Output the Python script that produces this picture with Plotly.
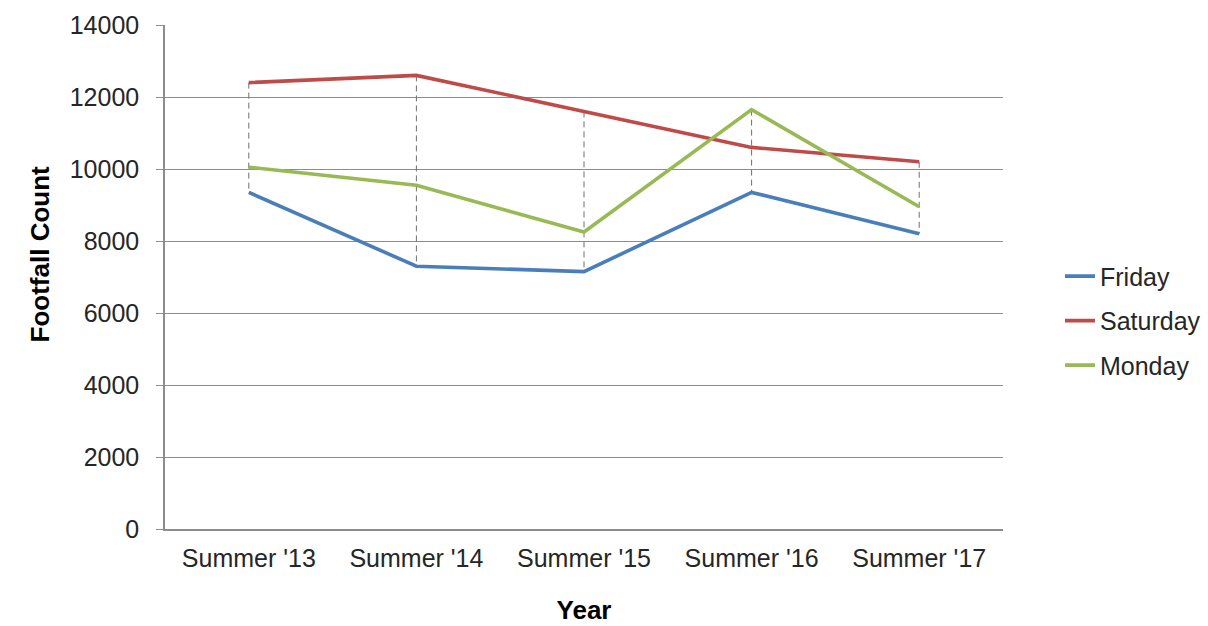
import plotly.graph_objects as go

# Footfall counts per summer for three weekdays
years = ["Summer '13", "Summer '14", "Summer '15", "Summer '16", "Summer '17"]
friday = [9350, 7300, 7150, 9350, 8200]
saturday = [12400, 12600, 11600, 10600, 10200]
monday = [10050, 9550, 8250, 11650, 8950]

series = [
    ("Friday", friday, "#4A7EBB"),
    ("Saturday", saturday, "#BE4B48"),
    ("Monday", monday, "#98B954"),
]

xpos = list(range(len(years)))

fig = go.Figure()

# Drop lines: dashed vertical segment from highest to lowest value in each year
drop_x, drop_y = [], []
for i in xpos:
    vals = [s[1][i] for s in series]
    drop_x += [i, i, None]
    drop_y += [max(vals), min(vals), None]
fig.add_trace(go.Scatter(
    x=drop_x, y=drop_y, mode="lines",
    line=dict(color="#6e6e6e", width=1, dash="6px,4px"),
    showlegend=False, hoverinfo="skip",
))

for name, vals, color in series:
    fig.add_trace(go.Scatter(
        x=xpos, y=vals, name=name, mode="lines",
        line=dict(color=color, width=3.6),
        legendgroup=name,
    ))

font_family = "Arial, Liberation Sans, sans-serif"

fig.update_layout(
    width=1208, height=626,
    margin=dict(l=165, r=205, t=25, b=97, autoexpand=False),
    paper_bgcolor="white", plot_bgcolor="white",
    font=dict(family=font_family, size=25, color="#262626"),
    showlegend=True,
    legend=dict(
        x=1.068, y=0.413, xanchor="left", yanchor="middle",
        font=dict(size=25, color="#262626"),
        tracegroupgap=9, bgcolor="rgba(0,0,0,0)",
    ),
    xaxis=dict(
        range=[-0.5, len(years) - 0.5],
        tickvals=xpos, ticktext=years,
        showgrid=False, showline=True, zeroline=False,
        linecolor="#8c8c8c", linewidth=1.5, ticks="",
        ticklabelstandoff=6,
        tickfont=dict(size=25, color="#262626"),
        title=dict(text="<b>Year</b>", font=dict(size=26, color="#000"), standoff=30),
    ),
    yaxis=dict(
        range=[0, 14000], tickvals=list(range(0, 14001, 2000)), tickformat="d",
        showgrid=True, gridcolor="#8c8c8c", gridwidth=1,
        showline=True, linecolor="#8c8c8c", linewidth=1.5,
        ticks="outside", ticklen=7, tickcolor="#8c8c8c",
        ticklabelstandoff=12,
        tickfont=dict(size=25, color="#262626"),
        zeroline=False,
    ),
    annotations=[dict(
        text="<b>Footfall Count</b>", textangle=-90,
        xref="paper", yref="paper",
        x=-0.149, y=0.545, xanchor="center", yanchor="middle",
        showarrow=False, font=dict(size=26, color="#000"),
    )],
)

fig.write_html("out.html")
